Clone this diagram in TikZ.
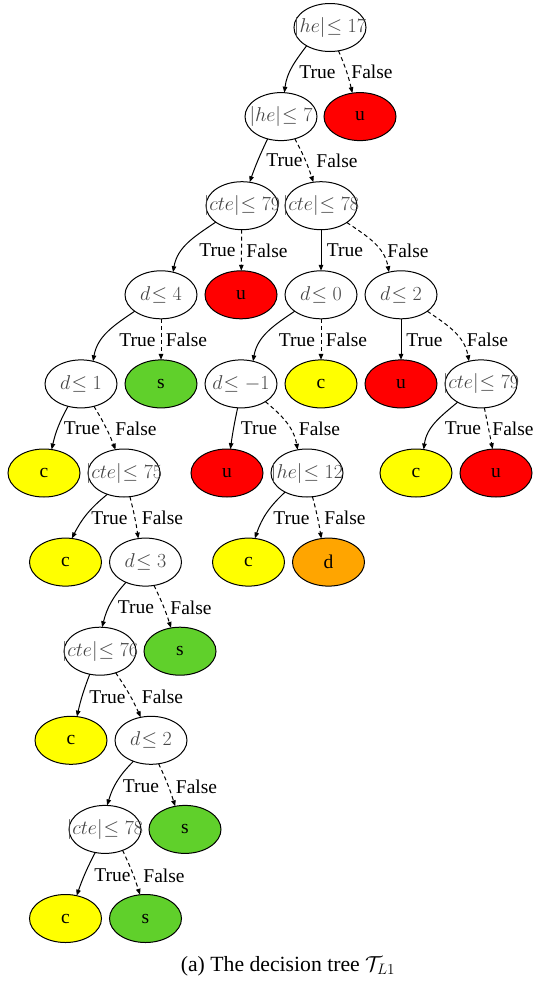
\RequirePackage{fix-cm}
\documentclass[tikz,border=0pt]{standalone}
\usepackage[no-math]{fontspec}
\setmainfont{Liberation Serif}
\usetikzlibrary{arrows.meta,shapes.geometric}
\definecolor{nred}{RGB}{255,0,0}
\definecolor{nyellow}{RGB}{255,255,0}
\definecolor{ngreen}{RGB}{96,208,43}
\definecolor{norange}{RGB}{255,165,0}
\definecolor{mathgray}{gray}{0.27}
\tikzset{
 tnode/.style={ellipse, draw=black, line width=1pt, minimum width=72pt, minimum height=48pt, inner sep=0pt, outer sep=0pt},
 dnode/.style={tnode, font=\fontsize{20}{24}\selectfont, text=mathgray},
 leaf/.style={tnode, font=\fontsize{19.5}{22}\selectfont, fill=#1},
 tE/.style={line width=1pt, -{Triangle[length=6pt,width=4.5pt]}},
 fE/.style={tE, dash pattern=on 4pt off 3pt},
 elab/.style={font=\fontsize{19.5}{22}\selectfont, inner sep=0pt},
}
\newcommand\dlab[1]{\makebox[0pt]{$#1$}}
\begin{document}
\begin{tikzpicture}[x=1pt,y=1pt]
\useasboundingbox (0,0) rectangle (535,-988);
% level 0
\node[dnode] (n1) at (330,-27.5) {\dlab{|he|\mskip-4mu\leq 17}};
% level 1
\node[dnode] (n2) at (281,-116.6) {\dlab{|he|\mskip-4mu\leq 7}};
\node[leaf=nred] (n3) at (360,-116.6) {u};
% level 2
\node[dnode] (n4) at (242,-205.7) {\dlab{|cte|\mskip-4mu\leq 79}};
\node[dnode] (n5) at (321,-205.7) {\dlab{|cte|\mskip-4mu\leq 78}};
% level 3
\node[dnode] (n6) at (161,-294.8) {\dlab{d\mskip-4mu\leq 4}};
\node[leaf=nred] (n7) at (241,-294.8) {u};
\node[dnode] (n8) at (321,-294.8) {\dlab{d\mskip-4mu\leq 0}};
\node[dnode] (n9) at (401,-294.8) {\dlab{d\mskip-4mu\leq 2}};
% level 4
\node[dnode] (n10) at (81,-383.9) {\dlab{d\mskip-4mu\leq 1}};
\node[leaf=ngreen] (n11) at (161,-383.9) {s};
\node[dnode] (n12) at (241,-383.9) {\dlab{d\mskip-4mu\leq -1}};
\node[leaf=nyellow] (n13) at (321,-383.9) {c};
\node[leaf=nred] (n14) at (401,-383.9) {u};
\node[dnode] (n15) at (481,-383.9) {\dlab{|cte|\mskip-4mu\leq 79}};
% level 5
\node[leaf=nyellow] (n16) at (44,-473) {c};
\node[dnode] (n17) at (124,-473) {\dlab{|cte|\mskip-4mu\leq 75}};
\node[leaf=nred] (n18) at (227,-473) {u};
\node[dnode] (n19) at (307,-473) {\dlab{|he|\mskip-4mu\leq 12}};
\node[leaf=nyellow] (n20) at (416,-473) {c};
\node[leaf=nred] (n21) at (496,-473) {u};
% level 6
\node[leaf=nyellow] (n22) at (65.5,-562.1) {c};
\node[dnode] (n23) at (145.5,-562.1) {\dlab{d\mskip-4mu\leq 3}};
\node[leaf=nyellow] (n24) at (248.5,-562.1) {c};
\node[leaf=norange] (n25) at (328.5,-562.1) {d};
% level 7
\node[dnode] (n26) at (100,-651.2) {\dlab{|cte|\mskip-4mu\leq 76}};
\node[leaf=ngreen] (n27) at (180,-651.2) {s};
% level 8
\node[leaf=nyellow] (n28) at (71,-740.3) {c};
\node[dnode] (n29) at (151,-740.3) {\dlab{d\mskip-4mu\leq 2}};
% level 9
\node[dnode] (n30) at (105,-829.4) {\dlab{|cte|\mskip-4mu\leq 78}};
\node[leaf=ngreen] (n31) at (185,-829.4) {s};
% level 10
\node[leaf=nyellow] (n32) at (65.5,-918.5) {c};
\node[leaf=ngreen] (n33) at (145.5,-918.5) {s};

% edges
\draw[tE] (n1.218) to[out=-127,in=83] (n2.82);
\draw[fE] (n1.-70) to[bend left=5] (n3.108);
\draw[tE] (n2.239) to[bend right=3] (n4.72);
\draw[fE] (n2.-58) to[bend left=5] (n5.108);
\draw[tE] (n4.212) to[out=-146,in=80] (n6.62);
\draw[fE] (n4) -- (n7);
\draw[tE] (n5) -- (n8);
\draw[fE] (n5.-33) to[out=-34,in=100] (n9.118);
\draw[tE] (n6.212) to[out=-146,in=80] (n10.62);
\draw[fE] (n6) -- (n11);
\draw[tE] (n8.212) to[out=-146,in=80] (n12.62);
\draw[fE] (n8) -- (n13);
\draw[tE] (n9) -- (n14);
\draw[fE] (n9.-32) to[out=-34,in=100] (n15.118);
\draw[tE] (n10.240) to[bend right=8] (n16.72);
\draw[fE] (n10.-60) to[bend left=5] (n17.110);
\draw[tE] (n12.262) to[bend right=2] (n18.82);
\draw[fE] (n12.-36) to[out=-40,in=100] (n19.112);
\draw[tE] (n15.218) to[out=-140,in=82] (n20.72);
\draw[fE] (n15.-82) to (n21.98);
\draw[tE] (n17.232) to[bend right=12] (n22.75);
\draw[fE] (n17.-76) to[bend left=3] (n23.107);
\draw[tE] (n19.221) to[bend right=14] (n24.75);
\draw[fE] (n19.-77) to[bend left=3] (n25.107);
\draw[tE] (n23.226) to[bend right=14] (n26.85);
\draw[fE] (n23.-70) to[bend left=4] (n27.111);
\draw[tE] (n26.246) to[bend right=4] (n28.76);
\draw[fE] (n26.-54) to[bend left=5] (n29.114);
\draw[tE] (n29.230) to[bend right=14] (n30.85);
\draw[fE] (n29.-72) to[bend left=4] (n31.113);
\draw[tE] (n30.247) to[bend right=4] (n32.64);
\draw[fE] (n30.-50) to[bend left=4] (n33.103);

% edge labels
\node[elab] (t1) at (317.5,-72) {True};
\node[elab] (f1) at (372,-72) {False};
\node[elab] (t2) at (284.5,-160.5) {True};
\node[elab] (f2) at (337,-160.5) {False};
\node[elab] (t3) at (217.5,-250.5) {True};
\node[elab] (f3) at (267,-250.5) {False};
\node[elab] (t4) at (345,-250.5) {True};
\node[elab] (f4) at (408,-250.5) {False};
\node[elab] (t5) at (137.5,-340) {True};
\node[elab] (f5) at (186.5,-340) {False};
\node[elab] (t6) at (297,-340) {True};
\node[elab] (f6) at (346.5,-340) {False};
\node[elab] (t7) at (424.5,-340) {True};
\node[elab] (f7) at (487.5,-340) {False};
\node[elab] (t8) at (82,-428.5) {True};
\node[elab] (f8) at (136,-428.5) {False};
\node[elab] (t9) at (259,-428.5) {True};
\node[elab] (f9) at (319.5,-428.5) {False};
\node[elab] (t10) at (463,-428.5) {True};
\node[elab] (f10) at (513,-428.5) {False};
\node[elab] (t11) at (109.5,-518) {True};
\node[elab] (f11) at (162.5,-518) {False};
\node[elab] (t12) at (291.5,-518) {True};
\node[elab] (f12) at (345,-518) {False};
\node[elab] (t13) at (136,-607.5) {True};
\node[elab] (f13) at (191,-607.5) {False};
\node[elab] (t14) at (107.5,-697) {True};
\node[elab] (f14) at (162.5,-697) {False};
\node[elab] (t15) at (141,-786.5) {True};
\node[elab] (f15) at (196.5,-786.5) {False};
\node[elab] (t16) at (112.5,-875.5) {True};
\node[elab] (f16) at (164,-875.5) {False};

% caption
\node[font=\fontsize{21.7}{25}\selectfont, inner sep=0pt] (cap) at (288,-966) {(a) The decision tree $\mathcal{T}_{L1}$};
\end{tikzpicture}
\end{document}
